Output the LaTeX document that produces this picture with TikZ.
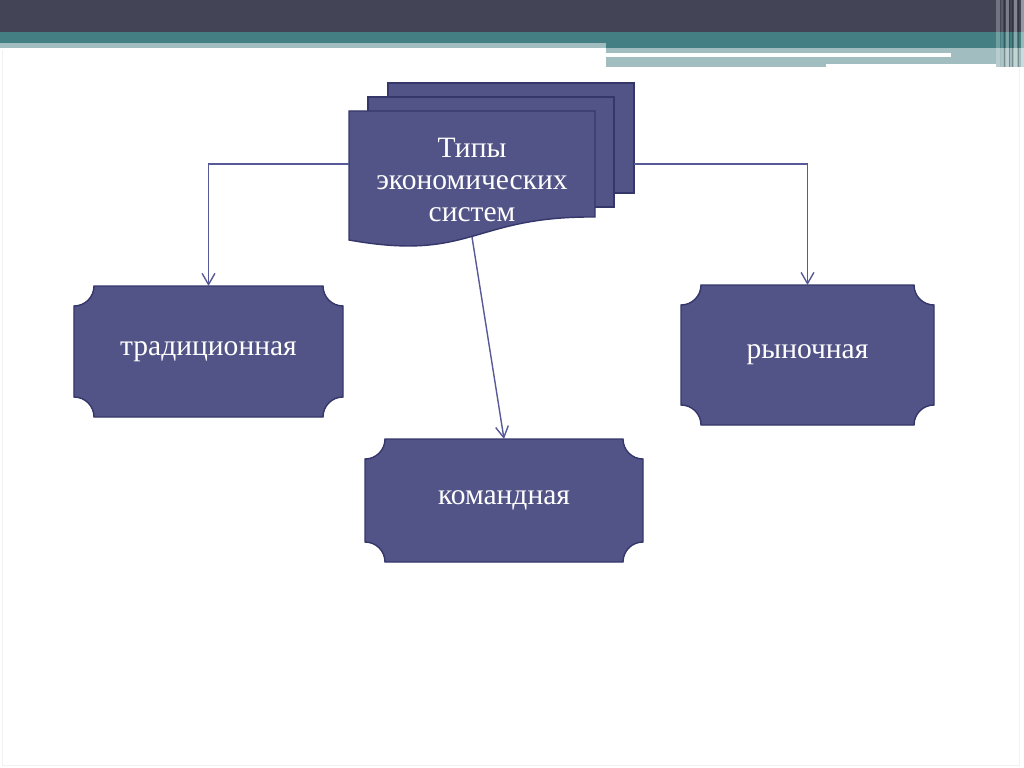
\documentclass[tikz,border=0pt]{standalone}
\usepackage{fontspec}
\setmainfont{Liberation Serif}
\usepackage{xcolor}
\usepackage{tikz}
\usetikzlibrary{arrows.meta,backgrounds}
\definecolor{topdark}{HTML}{434556}
\definecolor{topteal}{HTML}{447F83}
\definecolor{toplight}{HTML}{A2BDC0}
\definecolor{boxfill}{HTML}{525488}
\definecolor{boxline}{HTML}{35376A}
\definecolor{linkline}{HTML}{575A96}
\tikzset{
  sheet/.style = {rectangle, outer sep=0pt, minimum width=61.5mm, minimum height=27.5mm},
  title/.style = {rectangle, outer sep=0pt, minimum width=61.5mm, minimum height=33mm,
                  align=center, text=white, font=\fontsize{21}{23}\selectfont},
  kind/.style  = {rectangle, outer sep=0pt, align=center, text=white,
                  font=\fontsize{21}{24}\selectfont},
  plq/.style   = {fill=boxfill, draw=boxline, line width=1pt},
  arr/.style   = {-{Straight Barb[length=2.8mm,width=3.2mm]}, draw=linkline, line width=1pt},
}
\newcommand{\plaque}[1]{%
  \filldraw[plq] ([xshift=5mm]#1.north west) -- ([xshift=-5mm]#1.north east)
    arc[start angle=180, end angle=270, radius=5mm]
    -- ([yshift=5mm]#1.south east)
    arc[start angle=90, end angle=180, radius=5mm]
    -- ([xshift=5mm]#1.south west)
    arc[start angle=0, end angle=90, radius=5mm]
    -- ([yshift=-5mm]#1.north west)
    arc[start angle=270, end angle=360, radius=5mm] -- cycle;}

\begin{document}
\begin{tikzpicture}[x=0.25mm, y=-0.25mm]
  \useasboundingbox (0,0) rectangle (1024,767);
  % slide header
  \fill[topdark] (0,0) rectangle (1024,32);
  \fill[topteal] (0,32) rectangle (1024,48);
  \fill[toplight] (0,43) rectangle (606,48);
  \fill[toplight] (606,48) rectangle (1024,64);
  \fill[toplight] (606,64) rectangle (826,67);
  \fill[toplight] (996,64) rectangle (1024,67);
  \fill[white] (606,53) rectangle (951,57);
  \foreach \sx/\sw/\op in {996/4/0.25, 1001/2/0.12, 1006/3/0.3, 1014/3/0.35, 1021/3/0.45}
    \fill[white,opacity=\op] (\sx,0) rectangle ++(\sw,67);
  \foreach \sx in {1004,1009,1012,1018}
    \fill[black,opacity=0.25] (\sx,0) rectangle ++(1.2,67);
  \draw[black!5] (2,50) -- (2,765) -- (1019,765) -- (1019,67);

  \node[sheet] (docback) at (511,138) {};
  \node[sheet] (docmid) at (491,152) {};
  \node[title] (types) at (472,180) {Типы\\экономических\\систем};
  \node[kind, minimum width=67.25mm, minimum height=32.75mm] (trad) at (208.5,351.5) {традиционная};
  \node[kind, minimum width=69.5mm, minimum height=30.75mm] (command) at (504,500.5) {командная};
  \node[kind, minimum width=63.25mm, minimum height=35mm] (market) at (807.5,355) {рыночная};

  \begin{scope}[on background layer]
    \filldraw[plq] (docback.north west) rectangle (docback.south east);
    \filldraw[plq] (docmid.north west) rectangle (docmid.south east);
    \filldraw[plq] ([yshift=0.75mm]types.north west) -- ([yshift=0.75mm]types.north east)
      -- ([yshift=7.25mm]types.south east)
      .. controls ([xshift=-30.75mm,yshift=7.5mm]types.south east)
              and ([xshift=30.75mm,yshift=-4mm]types.south west)
      .. ([yshift=1.5mm]types.south west) -- cycle;
    \plaque{trad}
    \plaque{command}
    \plaque{market}
  \end{scope}

  \coordinate (fork) at ([yshift=4mm]types.west);
  \draw[arr] (fork) -| (trad.north);
  \draw[arr] (docback.east |- fork) -| (market.north);
  \draw[arr] ([yshift=2.25mm]types.south) -- (command.north);
\end{tikzpicture}
\end{document}
